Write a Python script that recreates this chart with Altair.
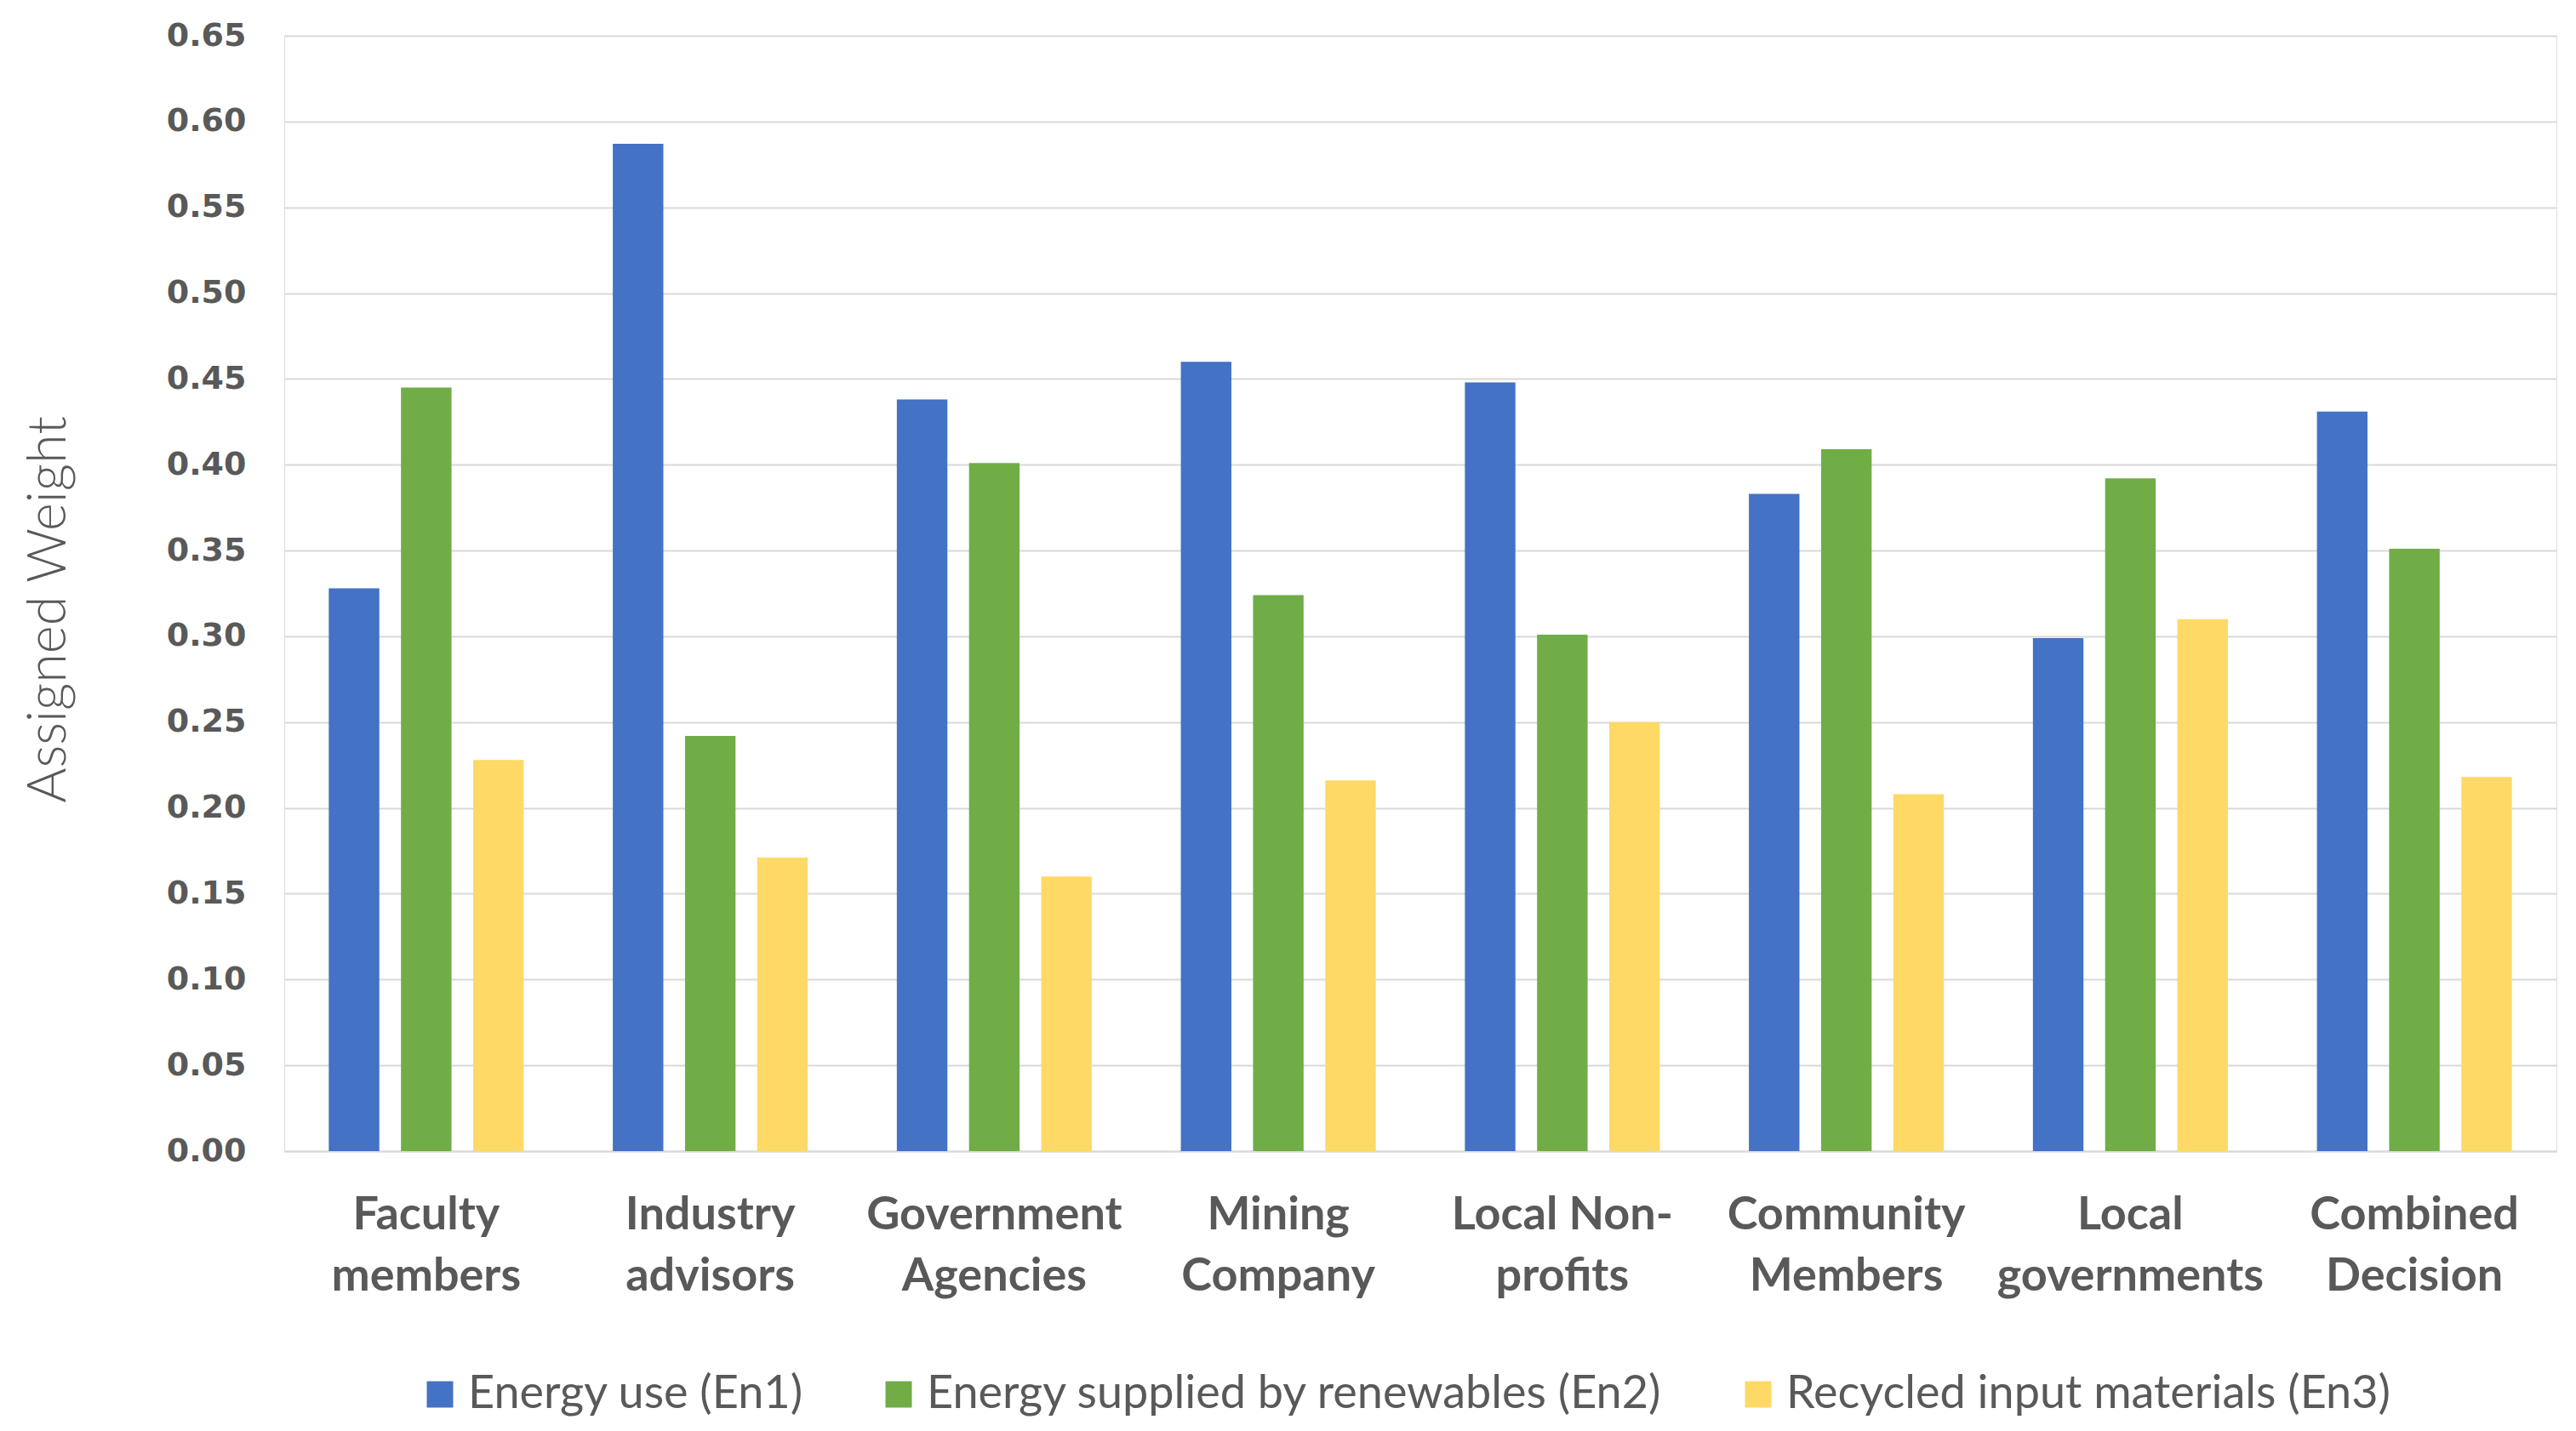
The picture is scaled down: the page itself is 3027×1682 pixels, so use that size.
import altair as alt
import pandas as pd

categories = ["Faculty\nmembers", "Industry\nadvisors", "Government\nAgencies", "Mining\nCompany",
              "Local Non-\nprofits", "Community\nMembers", "Local\ngovernments", "Combined\nDecision"]
series = ["Energy use (En1)", "Energy supplied by renewables (En2)", "Recycled input materials (En3)"]
en1 = [0.328, 0.587, 0.438, 0.460, 0.448, 0.383, 0.299, 0.431]
en2 = [0.445, 0.242, 0.401, 0.324, 0.301, 0.409, 0.392, 0.351]
en3 = [0.228, 0.171, 0.160, 0.216, 0.250, 0.208, 0.310, 0.218]
colors = ["#4472C4", "#70AD47", "#FFD966"]
y_ticks = [round(i * 0.05, 2) for i in range(14)]

rows = []
for vals, s in zip([en1, en2, en3], series):
    for c, v in zip(categories, vals):
        rows.append({"category": c, "series": s, "value": v})
df = pd.DataFrame(rows)

chart = alt.Chart(df).mark_bar().encode(
    x=alt.X("category:N", sort=categories, title=None,
            scale=alt.Scale(paddingInner=0, paddingOuter=0),
            axis=alt.Axis(labelAngle=0, ticks=False, domainColor="#D9D9D9", domainWidth=2,
                          labelFont="Lato", labelFontWeight="bold", labelFontSize=54,
                          labelColor="#595959", labelPadding=48, labelLineHeight=72,
                          labelBaseline="top", labelLimit=2000,
                          labelExpr="split(datum.label, '\\n')")),
    xOffset=alt.XOffset("series:N", sort=series,
                        scale=alt.Scale(paddingInner=0.3, paddingOuter=0.617)),
    y=alt.Y("value:Q", title="Assigned Weight",
            scale=alt.Scale(domain=[0, 0.65], nice=False),
            axis=alt.Axis(values=y_ticks, format=".2f", domain=False, ticks=False,
                          gridColor="#D9D9D9", gridWidth=2,
                          labelFont="DejaVu Sans", labelFontWeight="bold", labelFontSize=38,
                          labelColor="#595959", labelPadding=45,
                          titleFont="Lato", titleFontWeight=300, titleFontSize=63,
                          titleColor="#595959", titlePadding=106, titleY=674)),
    color=alt.Color("series:N", sort=series, title=None,
                    scale=alt.Scale(domain=series, range=colors),
                    legend=alt.Legend(orient="none", direction="horizontal",
                                      legendX=156, legendY=1570,
                                      symbolType="square", symbolSize=961,
                                      symbolStrokeWidth=0, labelFont="Lato",
                                      labelFontSize=54, labelColor="#595959",
                                      labelOffset=6, columnPadding=84,
                                      labelLimit=2000)),
).properties(
    width=2670, height=1311,
    padding={"left": 18, "top": 15, "right": 10, "bottom": 5},
).configure_view(stroke=None).configure(background="white")

chart.save("out.html", embed_options={"renderer": "svg", "actions": False})
